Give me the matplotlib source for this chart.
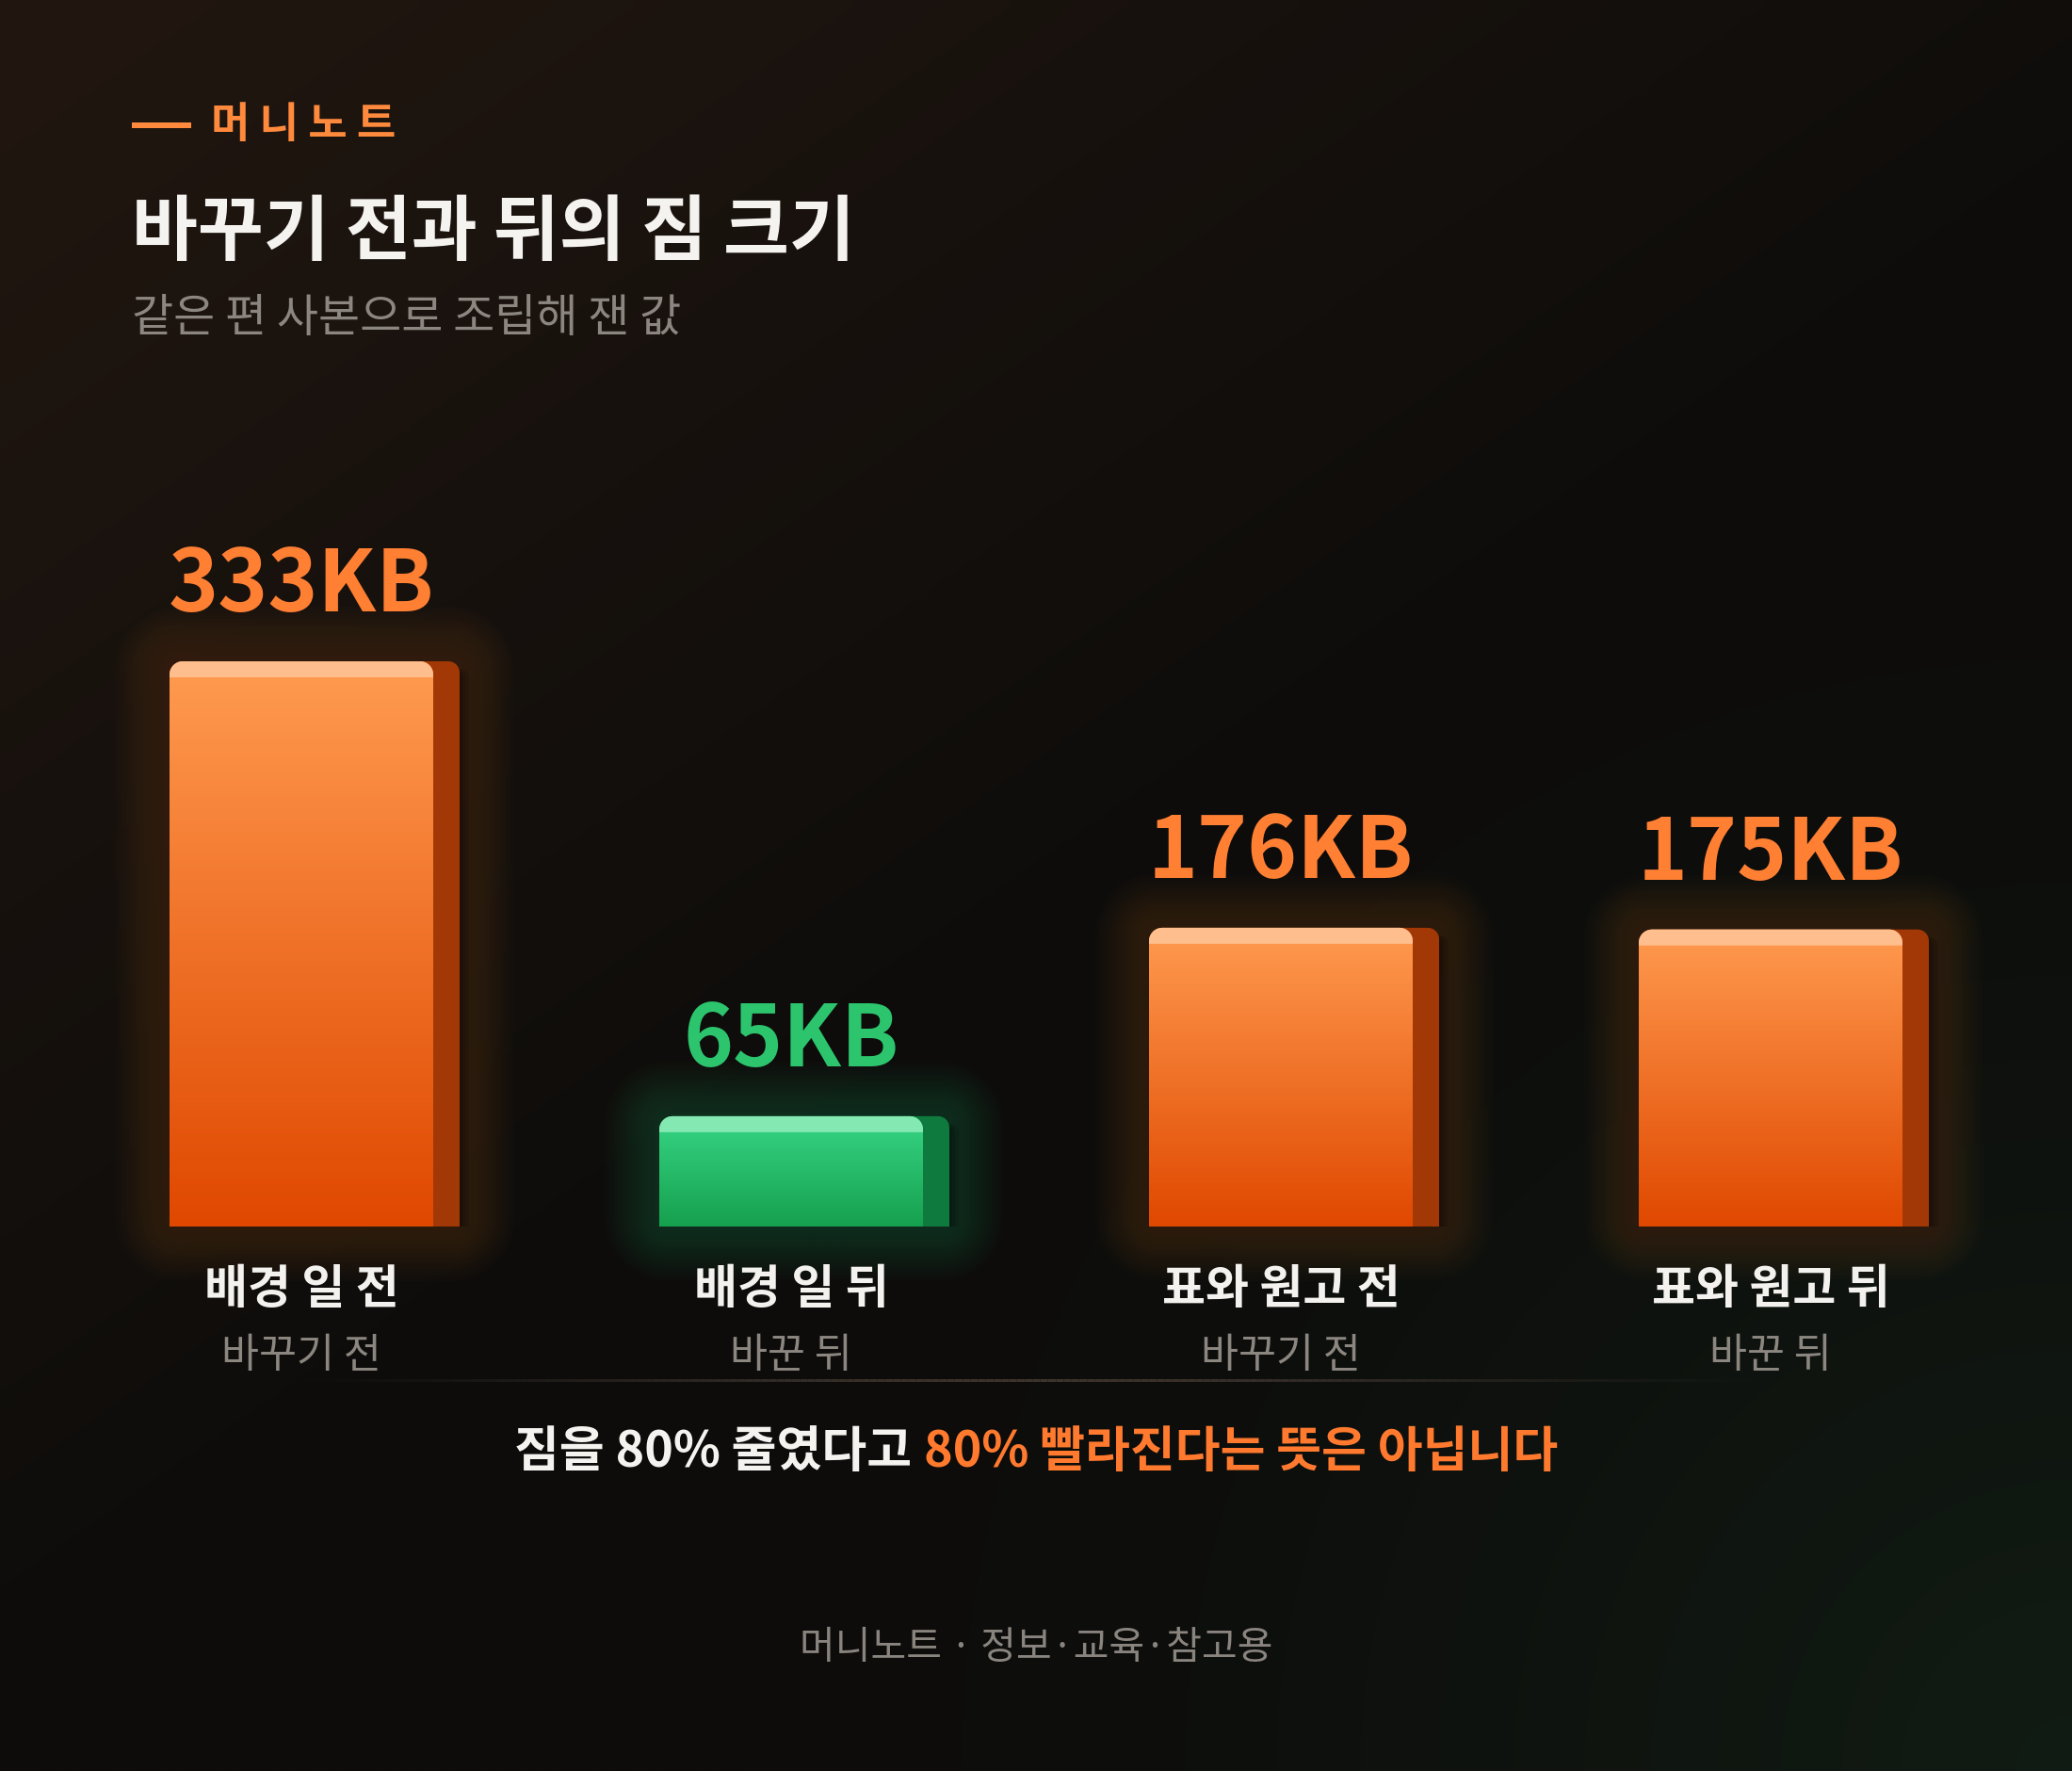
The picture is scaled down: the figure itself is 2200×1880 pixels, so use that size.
import numpy as np
import matplotlib
matplotlib.use("Agg")
import matplotlib.pyplot as plt
from matplotlib.path import Path
from matplotlib.patches import PathPatch
from matplotlib.collections import LineCollection
from matplotlib.colors import LinearSegmentedColormap, to_rgb
from matplotlib.lines import Line2D

# ---------------- data ----------------
brand = "머 니 노 트"
title = "바꾸기 전과 뒤의 짐 크기"
subtitle = "같은 편 사본으로 조립해 잰 값"
categories = ["배경 일 전", "배경 일 뒤", "표와 원고 전", "표와 원고 뒤"]
sublabels = ["바꾸기 전", "바꾼 뒤", "바꾸기 전", "바꾼 뒤"]
sizes_kb = [333, 65, 176, 175]
value_labels = ["333KB", "65KB", "176KB", "175KB"]
highlight = [False, True, False, False]
caption_plain = "짐을 80% 줄였다고"
caption_accent = "80% 빨라진다는 뜻은 아닙니다"
footer = "머니노트 · 정보·교육·참고용"

FONT = ["Noto Sans CJK KR", "DejaVu Sans"]
plt.rcParams["font.family"] = FONT

W, H, DPI = 2200, 1880, 100
PT = 72 / DPI  # points per pixel
fig = plt.figure(figsize=(W / DPI, H / DPI), dpi=DPI)


def fx(px):
    return px / W


def fy(py):
    return 1 - py / H


# ---------------- background ----------------
bg = fig.add_axes([0, 0, 1, 1], zorder=-2)
bg.set_axis_off()
ny, nx = 188, 220
yy, xx = np.mgrid[0:ny, 0:nx]
X = (xx + 0.5) / nx * W
Y = (yy + 0.5) / ny * H
base = np.array(to_rgb("#0D0C0B"))
warm = np.array(to_rgb("#221710"))
green = np.array(to_rgb("#111C14"))
w_warm = np.clip(1 - (0.7 * X + 1.0 * Y) / 1900, 0, 1) ** 1.1
w_green = np.clip(1 - np.hypot(X - W, Y - H) / 1400, 0, 1) ** 1.5
img = (base[None, None, :] * (1 - w_warm[..., None] - w_green[..., None])
       + warm * w_warm[..., None] + green * w_green[..., None])
bg.imshow(np.clip(img, 0, 1), extent=[0, 1, 0, 1], aspect="auto",
          interpolation="bilinear", origin="upper")
bg.set_xlim(0, 1)
bg.set_ylim(0, 1)

# ---------------- main axes ----------------
BASE_PX, TOP_PX = 1302, 702
FIRST_PX, STEP_PX = 320, 520
BAR_PX, SIDE_PX = 280, 28
ax = fig.add_axes([0, fy(BASE_PX), 1, (BASE_PX - TOP_PX) / H], zorder=0)
ax.set_axis_off()
ax.patch.set_alpha(0)
ymax = max(sizes_kb)
xlim = (-FIRST_PX / STEP_PX, (W - FIRST_PX) / STEP_PX)
kx = 1 / STEP_PX
ky = ymax / (BASE_PX - TOP_PX)


def rrect(x0, x1, y0, y1, r=(0, 0, 0, 0)):
    """Rounded rect path; r = (bl, br, tr, tl) radii in pixels."""
    spec = [((x0, y0), (1, 1), np.pi, 1.5 * np.pi, r[0]),
            ((x1, y0), (-1, 1), 1.5 * np.pi, 2 * np.pi, r[1]),
            ((x1, y1), (-1, -1), 0, 0.5 * np.pi, r[2]),
            ((x0, y1), (1, -1), 0.5 * np.pi, np.pi, r[3])]
    verts = []
    for (px_, py_), (sx, sy), a0, a1, rr in spec:
        if rr <= 0:
            verts.append((px_, py_))
        else:
            cx, cy = px_ + sx * rr * kx, py_ + sy * rr * ky
            for a in np.linspace(a0, a1, 12):
                verts.append((cx + rr * kx * np.cos(a), cy + rr * ky * np.sin(a)))
    verts.append(verts[0])
    codes = [Path.MOVETO] + [Path.LINETO] * (len(verts) - 2) + [Path.CLOSEPOLY]
    return Path(verts, codes)


palettes = {
    False: dict(top="#FF9B50", bottom="#E04800", hi="#FFBE8E", side="#A23805",
                glow="#7A4420", label="#FF7F33"),
    True: dict(top="#37D686", bottom="#16A04E", hi="#84E8B2", side="#0E7A3D",
               glow="#1E7A46", label="#2CC56E"),
}

grad = np.linspace(0, 1, 256)[:, None]
for i, (v, hl) in enumerate(zip(sizes_kb, highlight)):
    pal = palettes[hl]
    x0 = i - BAR_PX * kx / 2
    x1 = i + BAR_PX * kx / 2
    xs = x1 + SIDE_PX * kx
    # glow
    for p in np.linspace(3, 58, 18):
        ax.add_patch(PathPatch(rrect(x0 - p * kx, xs + p * kx, -p * ky, v + p * ky,
                                     (p + 8,) * 4),
                               fc=pal["glow"], ec="none", alpha=0.022,
                               clip_on=False, zorder=1))
    # soft shadow right of the side face
    for p in (3, 6, 10):
        ax.add_patch(PathPatch(rrect(x1, xs + p * kx, 0, v - 8 * ky, (0, 0, 10, 0)),
                               fc="black", ec="none", alpha=0.12,
                               clip_on=False, zorder=2))
    # side face
    ax.add_patch(PathPatch(rrect(x1 - 14 * kx, xs, 0, v, (0, 0, 12, 0)),
                           fc=pal["side"], ec="none", clip_on=False, zorder=3))
    # front face with vertical gradient
    front = PathPatch(rrect(x0, x1, 0, v, (0, 0, 14, 14)), fc="none", ec="none",
                      clip_on=False, zorder=4)
    ax.add_patch(front)
    cmap = LinearSegmentedColormap.from_list("g%d" % i, [pal["bottom"], pal["top"]])
    im = ax.imshow(grad, cmap=cmap, extent=[x0, x1, 0, v], origin="lower",
                   aspect="auto", zorder=4, interpolation="bilinear")
    im.set_clip_path(front)
    # top highlight band
    ax.add_patch(PathPatch(rrect(x0, x1, v - 17 * ky, v, (0, 0, 14, 14)),
                           fc=pal["hi"], ec="none", clip_on=False, zorder=5))
    # value label
    ax.annotate(value_labels[i], xy=(i, v), xytext=(0, 53 * PT),
                textcoords="offset points", ha="center", va="baseline",
                fontsize=90 * PT, fontweight="bold", color=pal["label"],
                annotation_clip=False, zorder=6)
    # category labels
    ax.annotate(categories[i], xy=(i, 0), xytext=(0, -68 * PT),
                textcoords="offset points", ha="center", va="center",
                fontsize=50 * PT, fontweight="bold", color="#F4F2EF",
                annotation_clip=False, zorder=6)
    ax.annotate(sublabels[i], xy=(i, 0), xytext=(0, -138 * PT),
                textcoords="offset points", ha="center", va="center",
                fontsize=43.5 * PT, color="#8C8680",
                annotation_clip=False, zorder=6)

ax.set_xlim(*xlim)
ax.set_ylim(0, ymax)

# ---------------- header ----------------
orange = "#FF8A3D"
fig.add_artist(Line2D([fx(140), fx(203)], [fy(133), fy(133)], color=orange,
                      lw=6 * PT, solid_capstyle="butt"))
fig.text(fx(224), fy(133), brand, fontsize=45 * PT, fontweight="bold",
         color=orange, va="center", ha="left")
fig.text(fx(140), fy(247), title, fontsize=76 * PT, fontweight="bold",
         color="#F5F3F0", va="center", ha="left")
fig.text(fx(140), fy(338), subtitle, fontsize=48 * PT, color="#8C8680",
         va="center", ha="left")

# ---------------- separator ----------------
xl = np.linspace(fx(280), fx(1920), 200)
segs = [[(xl[k], fy(1465)), (xl[k + 1], fy(1465))] for k in range(len(xl) - 1)]
tt = np.linspace(0, 1, len(segs))
cols = [(*to_rgb("#3C332C"), a) for a in np.sin(np.pi * tt) ** 1.5]
fig.add_artist(LineCollection(segs, colors=cols, linewidths=3 * PT,
                              transform=fig.transFigure, zorder=-1))

# ---------------- caption ----------------
renderer = fig.canvas.get_renderer()
cap_px = 52
t1 = fig.text(0, fy(1541), caption_plain, fontsize=cap_px * PT, fontweight="bold",
              color="#F5F3F0", va="center", ha="left")
t2 = fig.text(0, fy(1541), caption_accent, fontsize=cap_px * PT, fontweight="bold",
              color="#FF7A2E", va="center", ha="left")
w1 = t1.get_window_extent(renderer).width
w2 = t2.get_window_extent(renderer).width
gap = 0.25 * cap_px
left = (W - (w1 + gap + w2)) / 2
t1.set_x(fx(left))
t2.set_x(fx(left + w1 + gap))

# ---------------- footer ----------------
fig.text(0.5, fy(1749), footer, fontsize=41 * PT, color="#8A847F",
         ha="center", va="center")

fig.savefig("out.png", dpi=DPI, facecolor="#0D0C0B")
